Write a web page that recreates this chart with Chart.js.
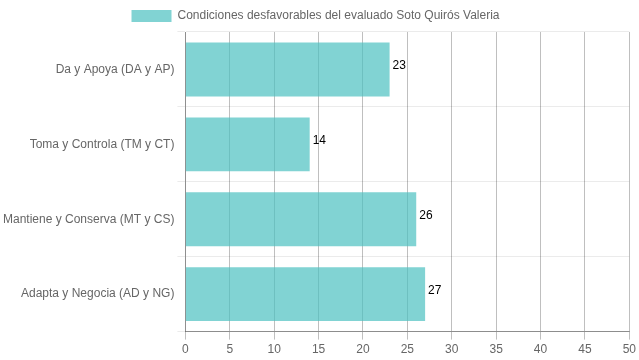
<!DOCTYPE html>
<html>
<head>
<meta charset="utf-8">
<script src="https://cdn.jsdelivr.net/npm/chart.js@4/dist/chart.umd.min.js"></script>
<style>
  html, body { margin: 0; padding: 0; background: #fff; }
  canvas { display: block; }
</style>
</head>
<body>
<canvas id="chart" width="639" height="360"></canvas>
<script>
// data
const categories = [
    'Da y Apoya (DA y AP)',
    'Toma y Controla (TM y CT)',
    'Mantiene y Conserva (MT y CS)',
    'Adapta y Negocia (AD y NG)'
];
const values = [23, 14, 26, 27];
const seriesLabel = 'Condiciones desfavorables del evaluado Soto Quirós Valeria';
const xMin = 0, xMax = 50, xStep = 5;

Chart.defaults.font.family = "'Liberation Sans', Arial, Helvetica, sans-serif";
Chart.defaults.font.size = 12;
Chart.defaults.color = '#666';

// value labels at the end of each bar
const barValues = {
    id: 'barValues',
    afterDatasetsDraw(chart) {
        const ctx = chart.ctx;
        ctx.save();
        ctx.fillStyle = '#000';
        ctx.font = "12px 'Liberation Sans', Arial, sans-serif";
        ctx.textAlign = 'left';
        ctx.textBaseline = 'alphabetic';
        chart.getDatasetMeta(0).data.forEach((bar, i) => {
            ctx.fillText(values[i], bar.x + 3, bar.y);
        });
        ctx.restore();
    }
};

new Chart(document.getElementById('chart'), {
    type: 'bar',
    data: {
        labels: categories,
        datasets: [{
            label: seriesLabel,
            data: values,
            backgroundColor: 'rgba(75, 192, 192, 0.7)',
            borderColor: 'rgba(75, 192, 192, 0.25)',
            borderWidth: 0,
            categoryPercentage: 0.8,
            barPercentage: 0.9
        }]
    },
    options: {
        indexAxis: 'y',
        responsive: false,
        animation: false,
        layout: { padding: { right: 8, left: 0 } },
        scales: {
            x: {
                min: xMin, max: xMax,
                ticks: { stepSize: xStep, color: '#666' },
                grid: { color: 'rgba(0,0,0,0.25)', tickLength: 8 },
                border: { color: 'rgba(0,0,0,0.4)' }
            },
            y: {
                ticks: { color: '#666' },
                grid: { color: 'rgba(0,0,0,0.08)', tickLength: 8 },
                border: { color: 'rgba(0,0,0,0.25)' }
            }
        },
        plugins: {
            legend: {
                labels: { boxWidth: 40, boxHeight: 12, color: '#666', padding: 10 }
            },
            tooltip: { enabled: false }
        }
    },
    plugins: [barValues]
});
</script>
</body>
</html>
